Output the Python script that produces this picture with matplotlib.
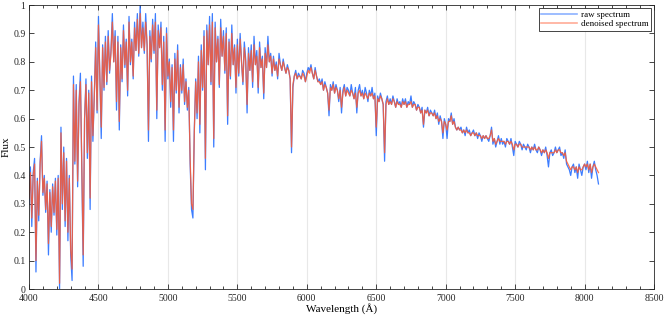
import matplotlib
matplotlib.use("Agg")
import matplotlib.pyplot as plt
import numpy as np

plt.rcParams['font.family'] = ['Liberation Serif', 'DejaVu Serif']

# wavelength grid, 10 A step from 4000 to 8100
wave = np.arange(4000, 8101, 10)

# raw flux, one row per 100 A
raw = [
    0.30, 0.43, 0.22, 0.41, 0.46, 0.06, 0.39, 0.24, 0.45, 0.54,
    0.33, 0.40, 0.27, 0.38, 0.12, 0.35, 0.20, 0.37, 0.26, 0.39,
    0.19, 0.40, 0.00, 0.57, 0.28, 0.50, 0.22, 0.46, 0.17, 0.40,
    0.12, 0.03, 0.75, 0.44, 0.72, 0.36, 0.66, 0.76, 0.42, 0.08,
    0.60, 0.74, 0.46, 0.70, 0.28, 0.75, 0.52, 0.68, 0.87, 0.62,
    0.96, 0.74, 0.53, 0.86, 0.70, 0.89, 0.72, 0.91, 0.76, 0.84,
    0.97, 0.80, 0.91, 0.63, 0.89, 0.56, 0.86, 0.73, 0.93, 0.78,
    0.88, 0.68, 0.96, 0.79, 0.88, 0.74, 0.94, 0.84, 0.97, 0.82,
    1.00, 0.85, 0.94, 0.83, 0.97, 0.86, 0.52, 0.91, 0.80, 0.95,
    0.83, 0.97, 0.60, 0.93, 0.85, 0.94, 0.70, 0.89, 0.52, 0.92,
    0.74, 0.81, 0.64, 0.79, 0.52, 0.83, 0.69, 0.86, 0.62, 0.79,
    0.69, 0.81, 0.65, 0.74, 0.63, 0.71, 0.44, 0.28, 0.25, 0.56,
    0.74, 0.60, 0.82, 0.55, 0.86, 0.70, 0.91, 0.42, 0.93, 0.79,
    0.96, 0.72, 0.97, 0.50, 0.94, 0.80, 0.89, 0.71, 0.95, 0.82,
    0.91, 0.76, 0.92, 0.58, 0.88, 0.74, 0.93, 0.79, 0.86, 0.69,
    0.88, 0.75, 0.90, 0.80, 0.72, 0.87, 0.81, 0.62, 0.85, 0.77,
    0.86, 0.71, 0.89, 0.79, 0.84, 0.69, 0.87, 0.78, 0.82, 0.67,
    0.85, 0.78, 0.89, 0.80, 0.83, 0.75, 0.82, 0.77, 0.80, 0.74,
    0.83, 0.79, 0.77, 0.81, 0.78, 0.76, 0.79, 0.77, 0.74, 0.48,
    0.71, 0.75, 0.77, 0.74, 0.76, 0.75, 0.74, 0.77, 0.76, 0.73,
    0.76, 0.78, 0.77, 0.79, 0.76, 0.74, 0.78, 0.75, 0.73, 0.74,
    0.72, 0.74, 0.70, 0.73, 0.71, 0.69, 0.61, 0.72, 0.70, 0.73,
    0.69, 0.72, 0.70, 0.66, 0.71, 0.62, 0.70, 0.72, 0.68, 0.71,
    0.70, 0.68, 0.72, 0.69, 0.67, 0.71, 0.62, 0.70, 0.72, 0.68,
    0.70, 0.67, 0.71, 0.69, 0.66, 0.70, 0.68, 0.71, 0.67, 0.69,
    0.54, 0.68, 0.66, 0.69, 0.67, 0.65, 0.45, 0.66, 0.68, 0.65,
    0.67, 0.65, 0.68, 0.66, 0.64, 0.67, 0.65, 0.66, 0.64, 0.67,
    0.65, 0.67, 0.64, 0.66, 0.65, 0.68, 0.64, 0.66, 0.65, 0.63,
    0.65, 0.64, 0.62, 0.64, 0.57, 0.63, 0.62, 0.64, 0.61, 0.63,
    0.62, 0.61, 0.63, 0.60, 0.62, 0.58, 0.61, 0.59, 0.53, 0.60,
    0.58, 0.53, 0.60, 0.59, 0.62, 0.58, 0.60, 0.57, 0.56, 0.57,
    0.56, 0.57, 0.55, 0.56, 0.54, 0.57, 0.55, 0.56, 0.54, 0.55,
    0.56, 0.54, 0.55, 0.53, 0.55, 0.54, 0.52, 0.54, 0.53, 0.54,
    0.53, 0.52, 0.54, 0.57, 0.51, 0.53, 0.50, 0.52, 0.54, 0.51,
    0.53, 0.51, 0.52, 0.50, 0.53, 0.52, 0.51, 0.53, 0.50, 0.47,
    0.52, 0.51, 0.50, 0.52, 0.51, 0.49, 0.51, 0.50, 0.49, 0.51,
    0.50, 0.48, 0.50, 0.49, 0.51, 0.49, 0.48, 0.50, 0.49, 0.47,
    0.49, 0.48, 0.50, 0.47, 0.43, 0.48, 0.49, 0.47, 0.48, 0.50,
    0.48, 0.49, 0.50, 0.47, 0.48, 0.46, 0.49, 0.44, 0.43, 0.42,
    0.40, 0.43, 0.44, 0.41, 0.43, 0.39, 0.44, 0.42, 0.40, 0.43,
    0.44, 0.42, 0.45, 0.41, 0.44, 0.39, 0.43, 0.45, 0.42, 0.40,
    0.37,
]

# denoised flux, same grid
denoised = [
    0.32, 0.41, 0.25, 0.40, 0.44, 0.10, 0.38, 0.26, 0.44, 0.52,
    0.34, 0.39, 0.28, 0.37, 0.16, 0.34, 0.22, 0.36, 0.27, 0.38,
    0.21, 0.39, 0.02, 0.55, 0.30, 0.48, 0.24, 0.45, 0.20, 0.39,
    0.14, 0.07, 0.72, 0.45, 0.70, 0.38, 0.65, 0.73, 0.44, 0.12,
    0.60, 0.72, 0.48, 0.69, 0.32, 0.73, 0.54, 0.68, 0.85, 0.63,
    0.93, 0.75, 0.57, 0.85, 0.71, 0.87, 0.73, 0.89, 0.77, 0.83,
    0.94, 0.80, 0.89, 0.66, 0.87, 0.59, 0.85, 0.74, 0.91, 0.79,
    0.87, 0.70, 0.94, 0.80, 0.87, 0.75, 0.92, 0.84, 0.95, 0.83,
    0.97, 0.85, 0.92, 0.84, 0.94, 0.86, 0.56, 0.89, 0.81, 0.93,
    0.84, 0.94, 0.63, 0.91, 0.85, 0.92, 0.72, 0.87, 0.56, 0.90,
    0.75, 0.80, 0.66, 0.78, 0.56, 0.81, 0.70, 0.84, 0.64, 0.78,
    0.70, 0.79, 0.66, 0.73, 0.64, 0.70, 0.46, 0.30, 0.28, 0.55,
    0.73, 0.62, 0.80, 0.58, 0.84, 0.71, 0.89, 0.46, 0.91, 0.79,
    0.93, 0.73, 0.94, 0.53, 0.92, 0.80, 0.88, 0.72, 0.92, 0.82,
    0.89, 0.77, 0.90, 0.61, 0.87, 0.75, 0.90, 0.79, 0.85, 0.71,
    0.86, 0.76, 0.88, 0.80, 0.73, 0.85, 0.80, 0.65, 0.83, 0.77,
    0.84, 0.73, 0.86, 0.79, 0.82, 0.71, 0.85, 0.78, 0.81, 0.69,
    0.83, 0.78, 0.86, 0.80, 0.82, 0.76, 0.81, 0.77, 0.79, 0.75,
    0.81, 0.79, 0.77, 0.80, 0.78, 0.76, 0.78, 0.77, 0.74, 0.50,
    0.72, 0.75, 0.76, 0.74, 0.75, 0.75, 0.74, 0.76, 0.75, 0.73,
    0.75, 0.77, 0.76, 0.78, 0.76, 0.74, 0.77, 0.75, 0.73, 0.73,
    0.72, 0.73, 0.70, 0.72, 0.71, 0.69, 0.63, 0.71, 0.70, 0.72,
    0.69, 0.71, 0.70, 0.67, 0.70, 0.64, 0.69, 0.71, 0.68, 0.70,
    0.69, 0.68, 0.70, 0.69, 0.67, 0.69, 0.64, 0.69, 0.70, 0.68,
    0.69, 0.67, 0.69, 0.68, 0.67, 0.69, 0.68, 0.69, 0.67, 0.68,
    0.57, 0.67, 0.66, 0.68, 0.67, 0.65, 0.48, 0.65, 0.67, 0.65,
    0.66, 0.65, 0.67, 0.66, 0.64, 0.66, 0.65, 0.65, 0.64, 0.66,
    0.65, 0.66, 0.64, 0.65, 0.65, 0.66, 0.64, 0.65, 0.65, 0.63,
    0.64, 0.64, 0.62, 0.63, 0.58, 0.63, 0.62, 0.63, 0.61, 0.62,
    0.62, 0.61, 0.62, 0.60, 0.61, 0.59, 0.60, 0.59, 0.55, 0.59,
    0.58, 0.56, 0.59, 0.59, 0.61, 0.58, 0.59, 0.57, 0.56, 0.57,
    0.56, 0.56, 0.55, 0.56, 0.55, 0.56, 0.55, 0.55, 0.54, 0.55,
    0.55, 0.54, 0.55, 0.54, 0.54, 0.54, 0.53, 0.54, 0.53, 0.54,
    0.53, 0.53, 0.54, 0.56, 0.52, 0.53, 0.51, 0.52, 0.53, 0.52,
    0.52, 0.52, 0.52, 0.51, 0.52, 0.52, 0.51, 0.52, 0.51, 0.49,
    0.51, 0.51, 0.50, 0.51, 0.51, 0.50, 0.50, 0.50, 0.50, 0.50,
    0.50, 0.49, 0.50, 0.49, 0.50, 0.49, 0.49, 0.50, 0.49, 0.48,
    0.49, 0.48, 0.49, 0.48, 0.46, 0.48, 0.48, 0.48, 0.48, 0.49,
    0.48, 0.49, 0.49, 0.48, 0.48, 0.47, 0.48, 0.45, 0.44, 0.43,
    0.42, 0.43, 0.43, 0.42, 0.43, 0.41, 0.43, 0.42, 0.42, 0.43,
    0.44, 0.43, 0.44, 0.42, 0.44, 0.41, 0.43, 0.44, 0.43, 0.42,
    0.41,
]

fig = plt.figure(figsize=(6.64, 3.17), dpi=100)
ax = fig.add_axes([0.0437, 0.0883, 0.9413, 0.8957])

l1, = ax.plot(wave, raw, color='#1a66ff', alpha=0.85, lw=0.9, label='raw spectrum')
l2, = ax.plot(wave, denoised, color='#ff5a30', alpha=0.85, lw=0.9, label='denoised spectrum')

ax.set_xlim(4000, 8500)
ax.set_ylim(0, 1)
ax.set_xticks(np.arange(4000, 8501, 500))
ax.set_xticks(np.arange(4000, 8501, 100), minor=True)
ax.set_yticks(np.arange(0, 1.01, 0.1))
ax.set_yticklabels(['0', '0.1', '0.2', '0.3', '0.4', '0.5', '0.6', '0.7', '0.8', '0.9', '1'])
ax.grid(axis='x', which='major', color='#e8e8e8', lw=0.8)
ax.set_axisbelow(True)

ax.tick_params(which='both', direction='in', top=True, right=True,
               labelsize=7, colors='#262626')
ax.tick_params(axis='x', pad=3.5)
ax.tick_params(axis='y', pad=2.5)
ax.tick_params(which='major', length=3.5, width=0.6)
ax.tick_params(which='minor', length=2, width=0.6)
for s in ax.spines.values():
    s.set_color('#262626')
    s.set_linewidth(0.6)

ax.set_xlabel('Wavelength (Å)', fontsize=8, labelpad=0)
ax.set_ylabel('Flux', fontsize=8, labelpad=2)

leg = ax.legend(loc='upper right', fontsize=6.5, fancybox=False, framealpha=1,
                edgecolor='#262626', handlelength=4, borderpad=0.3,
                labelspacing=0.1, handletextpad=0.4, borderaxespad=0.3)
leg.get_frame().set_linewidth(0.6)
for h in leg.get_lines():
    h.set_alpha(0.5)
    h.set_linewidth(1.2)

fig.savefig('out.png', dpi=100)
